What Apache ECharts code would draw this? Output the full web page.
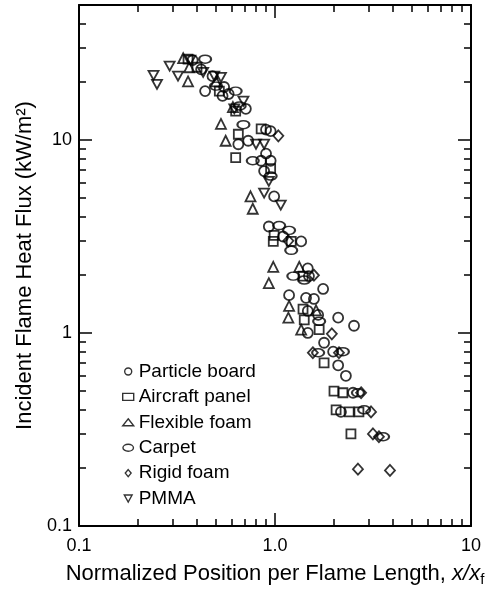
<!DOCTYPE html>
<html>
<head>
<meta charset="utf-8">
<script src="https://cdn.jsdelivr.net/npm/echarts@6/dist/echarts.min.js"></script>
<style>
  html, body { margin: 0; padding: 0; background: #fff; }
  #chart { width: 498px; height: 592px; }
</style>
</head>
<body>
<div id="chart"></div>
<script>
// values: [x/xf, heat flux kW/m2]
const particleBoard = [
  [0.38, 25.9], [0.42, 23.2], [0.48, 21.4], [0.44, 17.9], [0.55, 18.8], [0.58, 17.3],
  [0.54, 16.9], [0.71, 14.5], [0.90, 11.3], [0.95, 11.1], [0.65, 9.5], [0.73, 9.9],
  [0.85, 7.8], [0.95, 7.8], [0.90, 8.5], [0.88, 6.9], [0.99, 5.1], [0.93, 3.56],
  [1.10, 3.16], [1.36, 2.98], [1.47, 2.16], [1.49, 1.97], [1.76, 1.69], [1.18, 1.57],
  [1.44, 1.52], [1.58, 1.50], [1.47, 1.30], [1.66, 1.24], [2.10, 1.20], [2.53, 1.09],
  [1.47, 1.00], [1.78, 0.89], [1.98, 0.80], [2.10, 0.68], [2.30, 0.60], [2.17, 0.39],
  [2.50, 0.49]
]
const aircraftPanel = [
  [0.36, 26.2], [0.40, 23.8], [0.52, 17.9], [0.63, 14.1], [0.85, 11.4], [0.65, 10.7],
  [0.63, 8.1], [0.95, 7.1], [0.99, 3.2], [0.98, 2.98], [1.21, 2.98], [1.39, 1.97],
  [1.39, 1.33], [1.41, 1.17], [1.68, 1.04], [1.78, 0.70], [2.00, 0.50], [2.22, 0.49],
  [2.05, 0.40], [2.39, 0.39], [2.68, 0.39], [2.44, 0.30]
]
const flexibleFoam = [
  [0.34, 26.5], [0.36, 20.1], [0.365, 23.8], [0.50, 20.1], [0.61, 14.8], [0.53, 12.1],
  [0.56, 9.9], [0.75, 5.1], [0.77, 4.4], [0.98, 2.2], [0.93, 1.81], [1.33, 2.2],
  [1.18, 1.38], [1.17, 1.20], [1.62, 1.31], [1.36, 1.04]
]
const carpet = [
  [0.44, 26.2], [0.50, 19.0], [0.63, 17.9], [0.66, 15.0], [0.69, 12.0], [0.77, 7.8],
  [0.95, 6.5], [1.05, 3.6], [1.18, 3.4], [1.21, 2.68], [1.24, 1.97], [1.41, 1.88],
  [1.68, 1.15], [1.66, 0.79], [2.22, 0.80], [2.65, 0.49], [2.85, 0.40], [3.56, 0.29]
]
const rigidFoam = [
  [1.04, 10.5], [1.17, 3.0], [1.58, 1.99], [1.95, 0.99], [1.56, 0.79], [2.12, 0.79],
  [2.75, 0.49], [3.09, 0.39], [3.16, 0.30], [3.39, 0.29], [2.65, 0.197], [3.86, 0.194]
]
const pmma = [
  [0.24, 21.6], [0.25, 19.4], [0.29, 24.1], [0.32, 21.4], [0.37, 25.9], [0.43, 22.4],
  [0.49, 21.4], [0.53, 21.1], [0.69, 15.9], [0.62, 14.5], [0.80, 9.5], [0.88, 9.5],
  [0.93, 6.1], [0.88, 5.3], [1.07, 4.6]
]

const seriesNames = ['Particle board', 'Aircraft panel', 'Flexible foam', 'Carpet', 'Rigid foam', 'PMMA']

const xMajor = [0.1, 1, 10]
const xMinor = [0.2, 0.3, 0.4, 0.5, 0.6, 0.7, 0.8, 0.9, 2, 3, 4, 5, 6, 7, 8, 9]
const xLabels = ['0.1', '1.0', '10']
const yMajor = [0.1, 1, 10]
const yMinor = [0.2, 0.3, 0.4, 0.5, 0.6, 0.7, 0.8, 0.9, 2, 3, 4, 5, 6, 7, 8, 9, 20, 30, 40]
const yLabels = ['0.1', '1', '10']

const font = '"Liberation Sans", Arial, sans-serif'
const ellipse = 'path://M0,4A6,4 0 1,1 12,4A6,4 0 1,1 0,4Z'
const downTriangle = 'path://M0,0L10,0L5,9Z'
const diamond = 'path://M5,0L10,6L5,12L0,6Z'

const pickLabel = (majors, labels) => v => {
  const i = majors.findIndex(m => Math.abs(m - v) < m * 1e-6)
  return i < 0 ? '' : labels[i]
}

const makeX = (position, ticks, len, main) => ({
  type: 'log',
  logBase: 10,
  min: 0.1,
  max: 10,
  position: position,
  axisLine: { show: main, lineStyle: { color: '#000', width: 2 } },
  axisTick: { show: true, inside: true, length: len, customValues: ticks, lineStyle: { color: '#000', width: 1.5 } },
  axisLabel: { show: false },
  splitLine: { show: false }
})

const makeY = (position, ticks, len, main) => ({
  type: 'log',
  logBase: 10,
  min: 0.1,
  max: 50,
  position: position,
  axisLine: { show: main, lineStyle: { color: '#000', width: 2 } },
  axisTick: { show: true, inside: true, length: len, customValues: ticks, lineStyle: { color: '#000', width: 1.5 } },
  axisLabel: { show: false },
  splitLine: { show: false }
})

const xBottom = makeX('bottom', xMajor, 13, true)
xBottom.axisLabel = {
  show: true,
  customValues: xMajor,
  formatter: pickLabel(xMajor, xLabels),
  margin: 11,
  color: '#000',
  fontSize: 18,
  fontFamily: font
}
xBottom.name = '{n|Normalized Position per Flame Length, }{i|x/x}{s|f}'
xBottom.nameLocation = 'middle'
xBottom.nameGap = 34
xBottom.nameTextStyle = {
  rich: {
    n: { fontSize: 22, fontFamily: font, color: '#000', lineHeight: 27 },
    i: { fontSize: 22, fontFamily: font, fontStyle: 'italic', color: '#000', lineHeight: 27 },
    s: { fontSize: 15, fontFamily: font, color: '#000', lineHeight: 15, verticalAlign: 'bottom' }
  }
}

const yLeft = makeY('left', yMajor, 13, true)
yLeft.axisLabel = {
  show: true,
  customValues: yMajor,
  formatter: pickLabel(yMajor, yLabels),
  margin: 7,
  color: '#000',
  fontSize: 18,
  fontFamily: font
}
yLeft.name = 'Incident Flame Heat Flux (kW/m²)'
yLeft.nameLocation = 'middle'
yLeft.nameGap = 43
yLeft.nameTextStyle = { fontSize: 22, fontFamily: font, color: '#000' }

const baseStyle = { color: 'rgba(255,255,255,0)', borderColor: '#000', borderWidth: 1.8 }

const seriesData = [particleBoard, aircraftPanel, flexibleFoam, carpet, rigidFoam, pmma]
const symbols = ['circle', 'rect', 'triangle', ellipse, 'diamond', downTriangle]
const sizes = [10, 9, 10, [12, 8], [10, 11], [10, 9]]
const legendIcons = ['circle', 'rect', 'triangle', ellipse, diamond, downTriangle]

const myChart = echarts.init(document.getElementById('chart'))

const option = {
  animation: false,
  backgroundColor: '#fff',
  grid: { left: 79, top: 5, width: 392, height: 524 },
  legend: {
    orient: 'vertical',
    left: 117,
    top: 357,
    itemWidth: 11,
    itemHeight: 7,
    itemGap: 6.4,
    symbolKeepAspect: true,
    data: seriesNames.map((name, i) => ({ name: name, icon: legendIcons[i], symbolKeepAspect: true })),
    itemStyle: { borderWidth: 1.4 },
    textStyle: { color: '#000', fontSize: 19, lineHeight: 18, fontFamily: font }
  },
  xAxis: [
    xBottom,
    makeX('bottom', xMinor, 7, false),
    makeX('top', xMajor, 13, true),
    makeX('top', xMinor, 7, false)
  ],
  yAxis: [
    yLeft,
    makeY('left', yMinor, 7, false),
    makeY('right', yMajor, 13, true),
    makeY('right', yMinor, 7, false)
  ],
  series: seriesNames.map((name, i) => ({
    name: name,
    type: 'scatter',
    xAxisIndex: 0,
    yAxisIndex: 0,
    symbol: symbols[i],
    symbolSize: sizes[i],
    itemStyle: baseStyle,
    data: seriesData[i]
  }))
}

myChart.setOption(option)
</script>
</body>
</html>
